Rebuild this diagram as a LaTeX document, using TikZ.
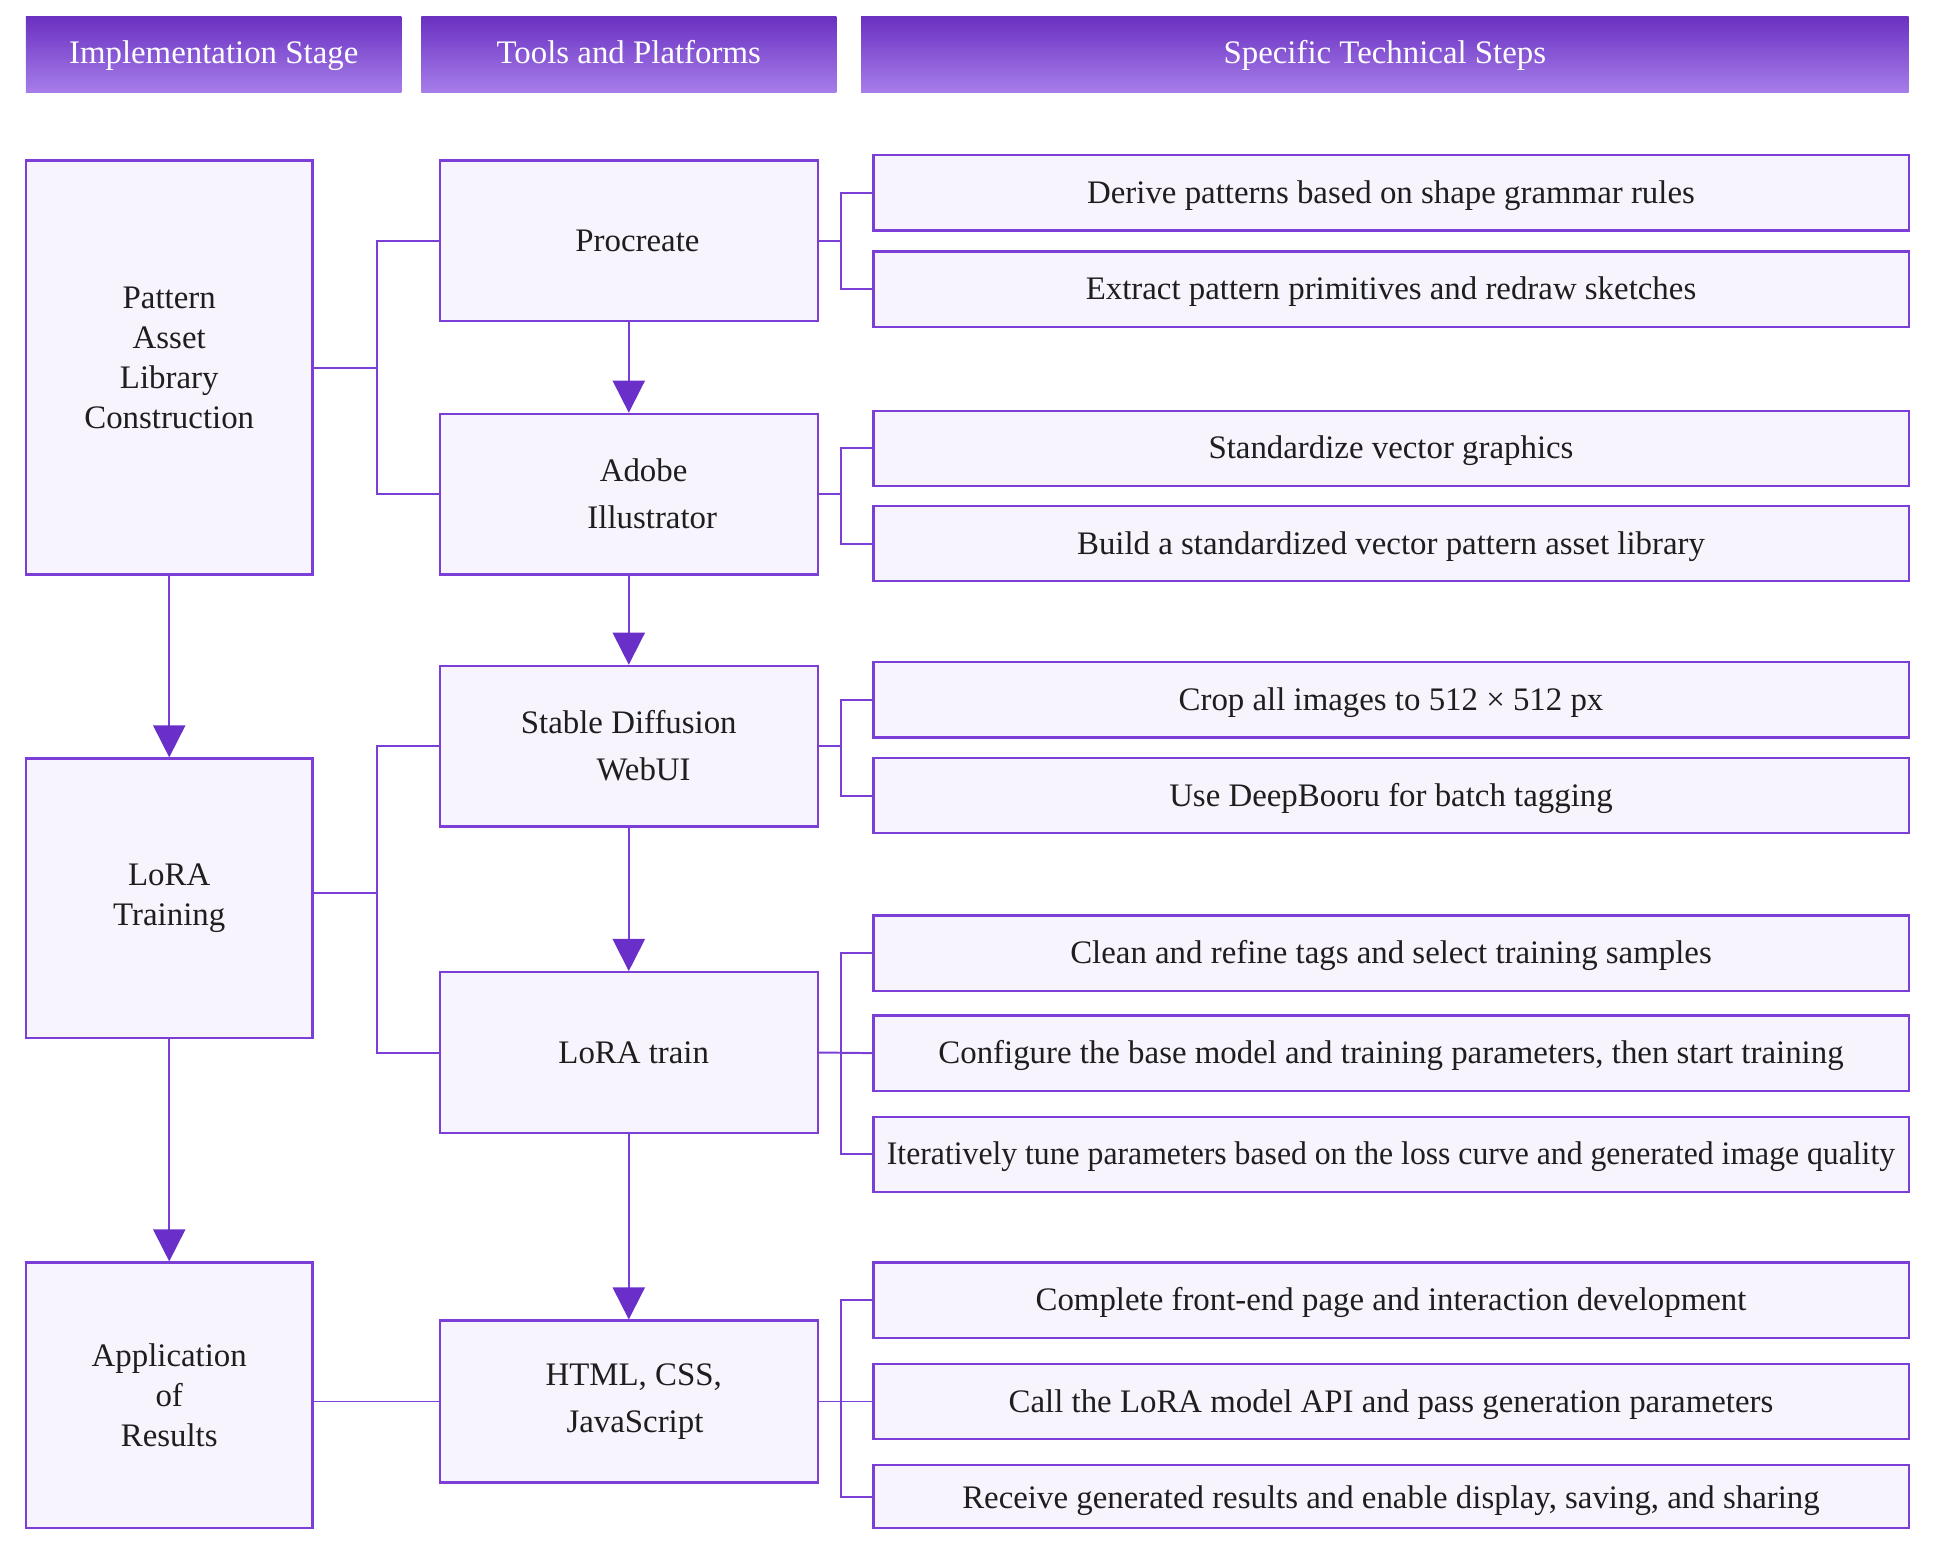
\documentclass[tikz,border=0pt]{standalone}
\usepackage{graphicx}
\usepackage{fontspec}
\setmainfont{Liberation Serif}
\usetikzlibrary{arrows.meta}
\definecolor{pborder}{HTML}{7B3FD8}
\definecolor{pfill}{HTML}{F7F4FD}
\definecolor{ptop}{HTML}{6A30C0}
\definecolor{pbot}{HTML}{A67EEA}
\definecolor{parrow}{HTML}{6A2FC9}
\definecolor{ptext}{HTML}{1E1E1E}
\tikzset{
 hdr/.style={draw=none, top color=ptop, bottom color=pbot, text=white, minimum height=31pt, inner sep=0pt, text height=9.5pt, text depth=2.5pt},
 box/.style={draw=pborder, line width=0.9pt, fill=pfill, text=ptext, align=center, inner sep=0pt},
 stagebox/.style={box, minimum width=116pt},
 toolbox/.style={box, minimum width=153pt, minimum height=65pt},
 stepbox/.style={box, minimum width=419pt, minimum height=30.5pt, text height=10.5pt, text depth=2pt},
 conn/.style={draw=pborder, line width=0.8pt},
 arr/.style={conn, -{Triangle[length=13pt,width=13pt,color=parrow]}}
}
\begin{document}
\begin{tikzpicture}[x=0.5pt,y=-0.5pt,font=\fontsize{13.3}{16.2}\selectfont]
\useasboundingbox (0,0) rectangle (1568,1252);
% headers
\node[hdr, minimum width=152pt] (h1) at (173,44) {Implementation Stage};
\node[hdr, minimum width=168pt] (h2) at (509,44) {Tools and Platforms};
\node[hdr, minimum width=424pt] (h3) at (1121,44) {Specific Technical Steps};
% stages
\node[stagebox, minimum height=167.5pt] (pat) at (137,297.5) {Pattern\\Asset\\Library\\Construction\\[-8.2pt]\mbox{}};
\node[stagebox, minimum height=113pt] (lt) at (137,727) {LoRA\\Training};
\node[stagebox, minimum height=107.5pt] (app) at (137,1129.5) {Application\\of\\Results};
% tools
\node[toolbox] (proc) at (509,195) {\hspace*{7pt}Procreate};
\node[toolbox] (adobe) at (509,400) {\hspace*{12pt}Adobe\\[2.8pt]\hspace*{19pt}Illustrator};
\node[toolbox] (sd) at (509,604) {Stable Diffusion\\[2.8pt]\hspace*{12pt}WebUI};
\node[toolbox] (ltr) at (509,852) {\hspace*{4pt}LoRA train};
\node[toolbox, minimum height=65.5pt] (web) at (509,1134.5) {\hspace*{4pt}HTML, CSS,\\[2.8pt]\hspace*{5pt}JavaScript};
% steps
\node[stepbox] (s1) at (1126,156) {Derive patterns based on shape grammar rules};
\node[stepbox] (s2) at (1126,234) {Extract pattern primitives and redraw sketches};
\node[stepbox] (s3) at (1126,363) {Standardize vector graphics};
\node[stepbox] (s4) at (1126,440) {Build a standardized vector pattern asset library};
\node[stepbox] (s5) at (1126,566.5) {Crop all images to 512 × 512 px};
\node[stepbox] (s6) at (1126,644) {Use DeepBooru for batch tagging};
\node[stepbox] (s7) at (1126,771.5) {Clean and refine tags and select training samples};
\node[stepbox] (s8) at (1126,852.5) {Configure the base model and training parameters, then start training};
\node[stepbox] (s9) at (1126,934.5) {\scalebox{0.965}[1]{Iteratively tune parameters based on the loss curve and generated image quality}};
\node[stepbox] (s10) at (1126,1052.5) {Complete front-end page and interaction development};
\node[stepbox] (s11) at (1126,1134.5) {Call the LoRA model API and pass generation parameters};
\node[stepbox, minimum height=25.5pt, text height=12pt, text depth=2pt] (s12) at (1126,1211.5) {Receive generated results and enable display, saving, and sharing};
% bus coordinates
\coordinate (b1) at (305,0);
\coordinate (b2) at (681,0);
% stage to tools
\draw[conn] (pat.east) -- (pat.east -| b1);
\draw[conn] (proc.west) -- (proc.west -| b1) -- (adobe.west -| b1) -- (adobe.west);
\draw[conn] ([yshift=2pt]lt.east) -- ([yshift=2pt]lt.east -| b1);
\draw[conn] (sd.west) -- (sd.west -| b1) -- (ltr.west -| b1) -- (ltr.west);
\draw[conn] (web.west -| app.east) -- (web.west);
% tools to steps
\draw[conn] (proc.east) -- (proc.east -| b2);
\draw[conn] (s1.west) -- (s1.west -| b2) -- (s2.west -| b2) -- (s2.west);
\draw[conn] (adobe.east) -- (adobe.east -| b2);
\draw[conn] (s3.west) -- (s3.west -| b2) -- (s4.west -| b2) -- (s4.west);
\draw[conn] (sd.east) -- (sd.east -| b2);
\draw[conn] (s5.west) -- (s5.west -| b2) -- (s6.west -| b2) -- (s6.west);
\draw[conn] (ltr.east) -- (s8.west);
\draw[conn] (s7.west) -- (s7.west -| b2) -- (s9.west -| b2) -- (s9.west);
\draw[conn] (web.east) -- (s11.west);
\draw[conn] (s10.west) -- (s10.west -| b2) -- (s12.west -| b2) -- (s12.west);
% vertical arrows
\draw[arr] (pat.south) -- (lt.north);
\draw[arr] (lt.south) -- (app.north);
\draw[arr] (proc.south) -- (adobe.north);
\draw[arr] (adobe.south) -- (sd.north);
\draw[arr] (sd.south) -- (ltr.north);
\draw[arr] (ltr.south) -- (web.north);
\end{tikzpicture}
\end{document}
